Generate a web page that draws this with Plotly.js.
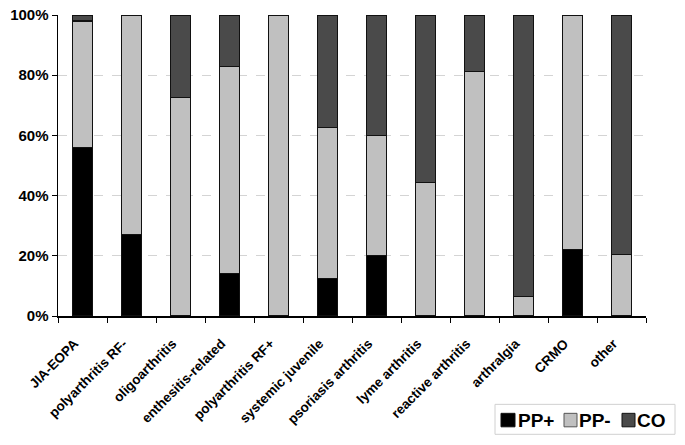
<!DOCTYPE html>
<html><head><meta charset="utf-8">
<script src="https://cdn.plot.ly/plotly-3.0.1.min.js"></script>
<style>html,body{margin:0;padding:0;background:#fff}#chart{width:685px;height:445px}</style>
</head><body><div id="chart"></div>
<script>
const categories = ["JIA-EOPA","polyarthritis RF-","oligoarthritis","enthesitis-related","polyarthritis RF+","systemic juvenile","psoriasis arthritis","lyme arthritis","reactive arthritis","arthralgia","CRMO","other"];
const ppPlus  = [56, 27, 0, 14, 0, 12.5, 20, 0, 0, 0, 22.2, 0];
const ppMinus = [42, 73, 72.7, 68.8, 100, 50, 40, 44.4, 81.2, 6.6, 77.8, 20.5];
const co      = [2, 0, 27.3, 17.2, 0, 37.5, 40, 55.6, 18.8, 93.4, 0, 79.5];
const seriesNames = ["PP+","PP-","CO"];
const seriesColors = ["#000000","#c0c0c0","#4a4a4a"];
const seriesData = [ppPlus, ppMinus, co];

const traces = seriesData.map((vals, i) => ({
  type: 'bar', x: categories, y: vals.map(v => v === 0 ? null : v), name: seriesNames[i],
  width: 0.41,
  marker: {color: seriesColors[i], line: {color: '#111', width: 1.2}},
  hoverinfo: 'x+y', showlegend: false
}));

const F = 'Arial, Liberation Sans, sans-serif';
const W = 685, H = 445, ML = 58, MR = 39, MT = 15, MB = 128.5;
const PW = W - ML - MR, PH = H - MT - MB;
const px = X => (X - ML) / PW;
const py = Y => (H - MB - Y) / PH;

// custom compact legend
const legendBoxes = [[501, 515], [564, 577], [622, 635]];
const legendTextX = [517, 578, 636];
const shapes = [{type: 'rect', xref: 'paper', yref: 'paper', x0: px(495), x1: px(675), y0: py(435), y1: py(405),
  line: {color: '#d0d0d0', width: 1}, fillcolor: '#fff'}];
const annotations = [];
seriesNames.forEach((n, i) => {
  shapes.push({type: 'rect', xref: 'paper', yref: 'paper', x0: px(legendBoxes[i][0]), x1: px(legendBoxes[i][1]),
    y0: py(427.5), y1: py(414), fillcolor: seriesColors[i], line: {color: i === 1 ? '#555' : '#111', width: 1}});
  annotations.push({xref: 'paper', yref: 'paper', x: px(legendTextX[i]), y: py(421), xanchor: 'left', yanchor: 'middle',
    text: n, showarrow: false, font: {size: 19, weight: 'bold', family: F, color: '#000'}, borderpad: 0});
});

const layout = {
  width: W, height: H,
  margin: {l: ML, r: MR, t: MT, b: MB},
  barmode: 'stack',
  paper_bgcolor: '#fff', plot_bgcolor: '#fff',
  font: {family: F, color: '#000'},
  xaxis: {
    tickangle: -45, tickson: 'boundaries', ticks: 'outside', ticklen: 5, tickcolor: '#000',
    showline: true, linecolor: '#000', linewidth: 1.5, showgrid: false,
    tickfont: {size: 13.5, weight: 'bold', family: F},
    ticklabelstandoff: 13, ticklabelshift: -8,
    range: [-0.5, 11.5]
  },
  yaxis: {
    range: [0, 100], dtick: 20, ticksuffix: '%', ticks: 'outside', ticklen: 5, tickcolor: '#000',
    showline: true, linecolor: '#000', linewidth: 1.5,
    showgrid: true, gridcolor: '#d4d4d4', griddash: 'dash', gridwidth: 1,
    zeroline: false,
    tickfont: {size: 15, weight: 'bold', family: F}
  },
  showlegend: false,
  shapes: shapes,
  annotations: annotations
};
Plotly.newPlot('chart', traces, layout, {displayModeBar: false, staticPlot: true});
</script></body></html>
